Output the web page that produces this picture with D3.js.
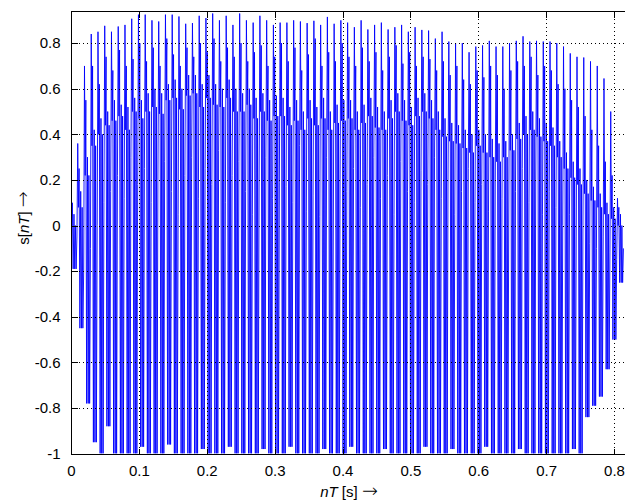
<!DOCTYPE html>
<html>
<head>
<meta charset="utf-8">
<script src="https://cdnjs.cloudflare.com/ajax/libs/d3/7.8.5/d3.min.js"></script>
<style>
body { margin: 0; background: #fff; }
text { font-family: "Liberation Sans", Arial, sans-serif; }
.arrow { font-family: "DejaVu Sans ExtraLight", "DejaVu Sans", sans-serif; font-weight: 200; font-size: 19px; }
</style>
</head>
<body>
<div id="chart"></div>
<script>

// tick values
var xTicks = [0, 0.1, 0.2, 0.3, 0.4, 0.5, 0.6, 0.7, 0.8];
var yTicks = [-1, -0.8, -0.6, -0.4, -0.2, 0, 0.2, 0.4, 0.6, 0.8];

// one fundamental period of the signal, in seconds
var period = 0.00994;

// per-period levels (82 periods)
var peakHi = [
  0.15, 0.36, 0.70, 0.84, 0.85, 0.876, 0.85, 0.873, 0.88, 0.907,
  0.925, 0.925, 0.90, 0.895, 0.925, 0.925, 0.917, 0.885, 0.888, 0.92,
  0.91, 0.93, 0.90, 0.92, 0.88, 0.93, 0.90, 0.89, 0.92, 0.90,
  0.88, 0.89, 0.89, 0.90, 0.895, 0.888, 0.898, 0.88, 0.915, 0.885,
  0.90, 0.89, 0.87, 0.90, 0.86, 0.88, 0.89, 0.86, 0.87, 0.88,
  0.85, 0.87, 0.858, 0.855, 0.82, 0.85, 0.807, 0.80, 0.80, 0.76,
  0.785, 0.79, 0.81, 0.785, 0.785, 0.80, 0.81, 0.83, 0.807, 0.81,
  0.807, 0.807, 0.80, 0.785, 0.755, 0.74, 0.737, 0.72, 0.70, 0.645,
  0.50, 0.12
];

var subHi = [
  0.10, 0.25, 0.55, 0.70, 0.62, 0.74, 0.68, 0.77, 0.70, 0.73,
  0.80, 0.72, 0.78, 0.70, 0.82, 0.75, 0.70, 0.78, 0.74, 0.80,
  0.76, 0.82, 0.72, 0.78, 0.74, 0.80, 0.72, 0.76, 0.79, 0.70,
  0.74, 0.80, 0.72, 0.78, 0.68, 0.75, 0.82, 0.70, 0.76, 0.72,
  0.80, 0.74, 0.70, 0.78, 0.72, 0.76, 0.68, 0.74, 0.79, 0.71,
  0.76, 0.70, 0.74, 0.73, 0.68, 0.72, 0.66, 0.70, 0.64, 0.62,
  0.68, 0.65, 0.70, 0.66, 0.60, 0.68, 0.72, 0.70, 0.74, 0.66,
  0.70, 0.68, 0.62, 0.60, 0.55, 0.52, 0.48, 0.42, 0.35, 0.28,
  0.22, 0.08
];

var bodyHi = [
  0.05, 0.15, 0.30, 0.42, 0.47, 0.50, 0.55, 0.53, 0.52, 0.56,
  0.55, 0.58, 0.60, 0.58, 0.62, 0.64, 0.60, 0.66, 0.66, 0.62,
  0.66, 0.62, 0.60, 0.64, 0.60, 0.58, 0.60, 0.56, 0.58, 0.55,
  0.57, 0.56, 0.52, 0.55, 0.50, 0.55, 0.52, 0.56, 0.50, 0.53,
  0.55, 0.55, 0.50, 0.53, 0.56, 0.52, 0.50, 0.55, 0.58, 0.55,
  0.52, 0.56, 0.58, 0.55, 0.50, 0.47, 0.45, 0.44, 0.42, 0.40,
  0.42, 0.40, 0.38, 0.36, 0.37, 0.40, 0.45, 0.48, 0.50, 0.47,
  0.45, 0.43, 0.37, 0.32, 0.28, 0.25, 0.20, 0.17, 0.14, 0.10,
  0.08, 0.05
];

var bodyMid = [
  0.00, 0.08, 0.22, 0.35, 0.40, 0.44, 0.46, 0.48, 0.42, 0.50,
  0.47, 0.50, 0.52, 0.49, 0.55, 0.56, 0.51, 0.57, 0.58, 0.52,
  0.56, 0.53, 0.52, 0.56, 0.50, 0.50, 0.53, 0.47, 0.50, 0.46,
  0.48, 0.48, 0.44, 0.46, 0.42, 0.47, 0.44, 0.47, 0.42, 0.45,
  0.46, 0.47, 0.42, 0.45, 0.48, 0.43, 0.42, 0.47, 0.50, 0.46,
  0.44, 0.48, 0.50, 0.47, 0.42, 0.39, 0.37, 0.36, 0.34, 0.32,
  0.35, 0.32, 0.30, 0.28, 0.30, 0.33, 0.38, 0.40, 0.42, 0.39,
  0.37, 0.35, 0.30, 0.25, 0.21, 0.18, 0.14, 0.11, 0.08, 0.05,
  0.03, 0.00
];

var dipLo = [
  -0.05, -0.20, -0.10, 0.00, 0.10, 0.15, 0.22, 0.12, 0.30, 0.18,
  0.25, 0.10, 0.20, 0.28, 0.15, 0.05, 0.22, 0.30, 0.12, 0.25,
  0.18, 0.33, 0.10, 0.22, 0.28, 0.15, 0.05, 0.20, 0.30, 0.12,
  0.19, 0.17, 0.10, 0.35, 0.06, 0.13, 0.04, 0.30, 0.02, 0.20,
  0.15, 0.25, 0.08, 0.18, 0.30, 0.12, 0.22, 0.05, 0.28, 0.15,
  0.10, 0.24, 0.18, 0.30, 0.12, 0.20, 0.05, 0.15, 0.25, 0.10,
  0.18, 0.06, 0.20, 0.12, 0.02, 0.15, 0.25, 0.10, 0.20, 0.05,
  0.15, 0.08, 0.00, 0.05, -0.05, 0.00, -0.08, -0.10, -0.05, -0.12,
  -0.15, -0.10
];

var troughLo = [
  -0.19, -0.45, -0.78, -0.95, -1.0, -0.88, -1.0, -1.0, -1.0, -1.0,
  -0.97, -1.0, -1.0, -1.0, -0.96, -1.0, -1.0, -1.0, -1.0, -0.98,
  -1.0, -1.0, -1.0, -0.97, -1.0, -1.0, -1.0, -1.0, -0.98, -1.0,
  -1.0, -1.0, -0.97, -1.0, -1.0, -1.0, -1.0, -0.98, -1.0, -1.0,
  -1.0, -0.97, -1.0, -1.0, -1.0, -1.0, -0.98, -1.0, -1.0, -1.0,
  -1.0, -1.0, -0.97, -1.0, -1.0, -1.0, -0.98, -1.0, -1.0, -1.0,
  -1.0, -0.97, -1.0, -1.0, -1.0, -1.0, -0.98, -1.0, -1.0, -1.0,
  -1.0, -1.0, -1.0, -1.0, -0.98, -1.0, -0.84, -0.79, -0.75, -0.63,
  -0.50, -0.25
];

function buildSignal(){
    // where in each period the read levels sit (fraction of a period)
    var spots = [0, 0.1, 0.2, 0.32, 0.44, 0.55, 0.65, 0.76, 0.88];
    var pts = [];
    for (var k = 0; k < peakHi.length; k++) {
        var vals = [peakHi[k], bodyMid[k], subHi[k], troughLo[k], bodyHi[k],
                    troughLo[k], bodyMid[k], troughLo[k], dipLo[k]];
        for (var j = 0; j < spots.length; j++) {
            pts.push({t: (k + spots[j]) * period, v: vals[j]});
        }
    }
    return pts;
}

function drawChart(containerId, data){

    var W = 625, H = 503;
    var margin = {top: 11, left: 71, bottom: 49.4};

    var svg = d3.select('#' + containerId).append("svg")
        .attr("width", W)
        .attr("height", H);

    var x = d3.scaleLinear()
        .domain([0, 0.8162])
        .range([margin.left, 625]);

    var y = d3.scaleLinear()
        .domain([-1, 0.941])
        .range([H - margin.bottom, margin.top]);

    svg.append("clipPath").attr("id", "plotclip")
      .append("rect")
        .attr("x", x.range()[0])
        .attr("y", y.range()[1])
        .attr("width", x.range()[1] - x.range()[0] + 2)
        .attr("height", y.range()[0] - y.range()[1]);

    var line = d3.line()
        .x(function(d) { return x(d.t); })
        .y(function(d) { return y(d.v); });

    svg.append("path")
        .attr("clip-path", "url(#plotclip)")
        .attr("fill", "none")
        .attr("stroke", "#0000ff")
        .attr("stroke-width", 0.9)
        .attr("stroke-linejoin", "miter")
        .attr("d", line(data));

    // dotted grid on top of the data, matlab style
    var grid = svg.append("g")
        .attr("stroke", "#000")
        .attr("stroke-width", 1)
        .attr("stroke-dasharray", "1,3")
        .attr("shape-rendering", "crispEdges");

    grid.selectAll("line.gx")
        .data(xTicks.slice(1))
        .enter().append("line")
        .attr("class", "gx")
        .attr("x1", d => Math.round(x(d)) + 0.5)
        .attr("x2", d => Math.round(x(d)) + 0.5)
        .attr("y1", y.range()[1])
        .attr("y2", y.range()[0]);

    grid.selectAll("line.gy")
        .data(yTicks.slice(1))
        .enter().append("line")
        .attr("class", "gy")
        .attr("x1", x.range()[0])
        .attr("x2", x.range()[1])
        .attr("y1", d => Math.round(y(d)) + 0.5)
        .attr("y2", d => Math.round(y(d)) + 0.5);

    // axes: inward ticks on bottom/left, and on top
    var xAxis = g => g
        .attr("transform", `translate(0,${Math.round(y(-1)) + 0.5})`)
        .call(d3.axisBottom(x).tickValues(xTicks).tickSize(-6).tickPadding(11)
              .tickFormat(d => String(d)))
        .call(g => g.select(".domain").attr("d", `M${x.range()[0]},0H${x.range()[1]}`));

    var xTop = g => g
        .attr("transform", `translate(0,${margin.top + 0.5})`)
        .call(d3.axisTop(x).tickValues(xTicks).tickSize(-6).tickFormat(""))
        .call(g => g.select(".domain").attr("d", `M${x.range()[0]},0H${x.range()[1]}`));

    var yAxis = g => g
        .attr("transform", `translate(${margin.left + 0.5},0)`)
        .call(d3.axisLeft(y).tickValues(yTicks).tickSize(-6).tickPadding(11)
              .tickFormat(d => String(d)))
        .call(g => g.select(".domain").attr("d", `M0,${y.range()[0]}V${y.range()[1]}`));

    [xAxis, xTop, yAxis].forEach(function(ax){
        svg.append("g").call(ax)
            .call(g => g.selectAll("line, path").attr("stroke", "#000")
                        .attr("shape-rendering", "crispEdges"))
            .call(g => g.selectAll("text").attr("fill", "#000")
                        .style("font-size", "15px")
                        .style("font-family", '"Liberation Sans", Arial, sans-serif'));
    });

    // axis labels
    var xl = svg.append("text")
        .attr("x", 349)
        .attr("y", 497)
        .attr("text-anchor", "middle")
        .style("font-size", "15px");
    xl.append("tspan").style("font-style", "italic").text("nT");
    xl.append("tspan").text(" [s] ");
    xl.append("tspan").attr("class", "arrow").text("\u2192");

    var yl = svg.append("text")
        .attr("transform", "translate(29,218) rotate(-90)")
        .attr("text-anchor", "middle")
        .style("font-size", "15px");
    yl.append("tspan").text("s[");
    yl.append("tspan").style("font-style", "italic").text("nT");
    yl.append("tspan").text("] ");
    yl.append("tspan").attr("class", "arrow").text("\u2192");
}

drawChart('chart', buildSignal());

</script>
</body>
</html>
